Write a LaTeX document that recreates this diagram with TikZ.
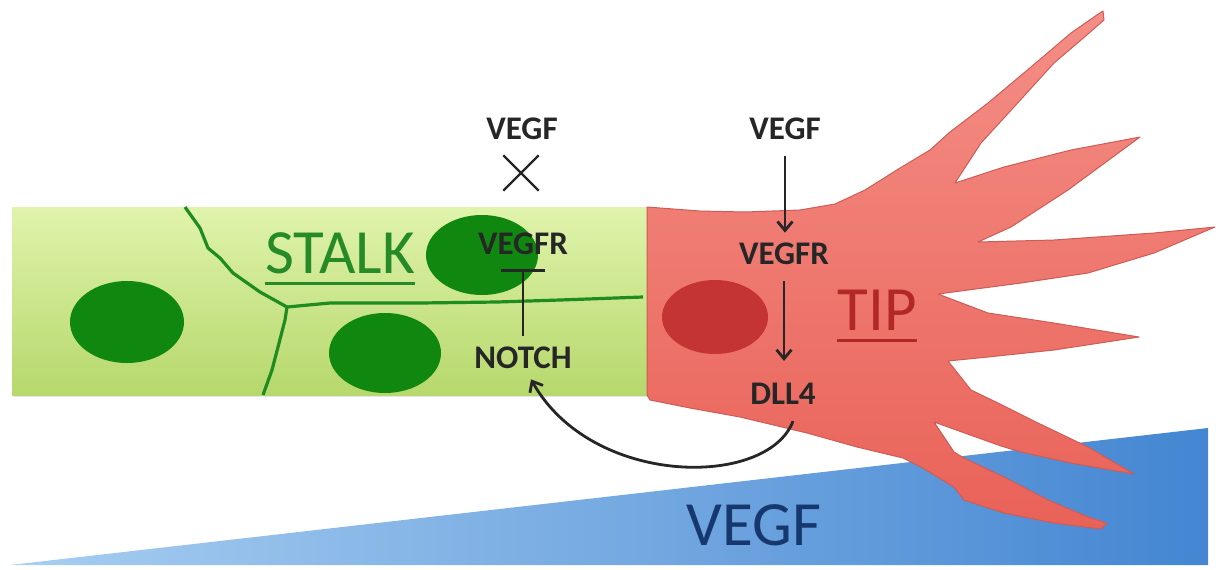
\documentclass[tikz,border=0pt]{standalone}
\usepackage{fontspec}
\setmainfont{Carlito}
\usetikzlibrary{arrows.meta,shapes.misc,shadows}

\definecolor{stalkTop}{RGB}{224,243,172}
\definecolor{stalkBot}{RGB}{182,216,108}
\definecolor{nucGreen}{RGB}{16,136,16}
\definecolor{lineGreen}{RGB}{30,140,30}
\definecolor{stalkText}{RGB}{38,138,38}
\definecolor{tipTop}{RGB}{244,142,134}
\definecolor{tipBot}{RGB}{233,98,88}
\definecolor{tipEdge}{RGB}{205,92,86}
\definecolor{nucRed}{RGB}{196,52,52}
\definecolor{tipText}{RGB}{178,40,40}
\definecolor{gradLeft}{RGB}{168,206,241}
\definecolor{gradRight}{RGB}{68,134,210}
\definecolor{gradText}{RGB}{22,56,110}
\definecolor{ink}{RGB}{38,38,38}

\tikzset{
  lbl/.style={inner sep=0pt, text=ink, font=\bfseries\fontsize{16.5}{19}\selectfont},
  bigword/.style={inner sep=0pt, anchor=base, font=\fontsize{31.5}{36}\selectfont},
  wire/.style={draw=ink, line width=1.4pt},
  act/.style={wire, -{Straight Barb[length=4.5pt,width=7.5pt,line width=1.4pt]}},
  inhib/.style={wire, -{Bar[width=22pt,line width=1.5pt]}},
  membrane/.style={draw=lineGreen, line width=1.6pt, line join=round},
  nucleus/.style={fill=nucGreen},
}

\begin{document}
\begin{tikzpicture}[x=0.5pt,y=-0.5pt]
\useasboundingbox (0,0) rectangle (1221,569);

% VEGF gradient wedge
\shade[left color=gradLeft, right color=gradRight]
  (10,565) -- (1208,428) -- (1208,565) -- cycle;

% stalk cells
\shade[top color=stalkTop, bottom color=stalkBot,
  drop shadow={shadow xshift=1.2pt, shadow yshift=-1.2pt, opacity=0.2}]
  (12,207) rectangle (648,395);
\draw[membrane] (185,207) -- (200,228) -- (208,248) -- (220,258) -- (233,273)
  -- (260,292) -- (287,307);
\draw[membrane] (287,307) -- (285,320) -- (278,347) -- (272,370) -- (263,395);
\draw[membrane] (287,307) -- (330,303) -- (420,303) -- (497,302) -- (560,300)
  -- (643,297);
\fill[nucleus] (127,322) ellipse [x radius=28.5pt, y radius=20.5pt];
\fill[nucleus] (385,353) ellipse [x radius=28pt, y radius=20pt];
\fill[nucleus] (482,255) ellipse [x radius=28pt, y radius=20pt];

% tip cell with filopodia
\shade[top color=tipTop, bottom color=tipBot, draw=tipEdge, line width=0.5pt,
  line join=round]
  (647,207) -- (700,211) -- (745,212) -- (800,210) -- (835,204) -- (865,190)
  -- (900,168) -- (930,150) -- (950,132) -- (988,103) -- (1031,67)
  -- (1071,33) -- (1094,17) -- (1103,11) -- (1104,20) -- (1081,40)
  -- (1054,63) -- (1014,107) -- (981,143) -- (955,183) -- (1004,167)
  -- (1071,150) -- (1140,137) -- (1068,190) -- (1011,227) -- (978,242)
  -- (1054,240) -- (1154,233) -- (1215,227) -- (1154,253) -- (1088,273)
  -- (1021,283) -- (938,294) -- (988,313) -- (1054,323) -- (1139,337)
  -- (1054,350) -- (988,357) -- (948,361) -- (971,390) -- (998,403)
  -- (1038,423) -- (1088,447) -- (1134,474) -- (1071,463) -- (1021,452)
  -- (1001,446) -- (934,422) -- (954,452) -- (964,458) -- (1004,477)
  -- (1048,500) -- (1088,517) -- (1107,523) -- (1101,529) -- (1054,523)
  -- (1004,513) -- (964,500) -- (954,487) -- (921,467) -- (903,458)
  -- (857,447) -- (807,433) -- (740,417) -- (690,408) -- (650,400)
  -- (647,395) -- cycle;
\fill[nucRed] (715,317) ellipse [x radius=26.5pt, y radius=18.5pt];

% cell names
\node[bigword, text=stalkText] (stalk) at (340,273) {STALK};
\draw[stalkText, line width=1.5pt]
  ([yshift=-5pt]stalk.base west) -- ([yshift=-5pt]stalk.base east);
\node[bigword, text=tipText] (tip) at (877,330) {TIP};
\draw[tipText, line width=1.5pt]
  ([yshift=-5pt]tip.base west) -- ([yshift=-5pt]tip.base east);
\node[bigword, text=gradText] (gradient) at (754,545) {VEGF};

% stalk-cell signalling
\node[lbl] (vegfA) at (522,129) {VEGF};
\node[draw=ink, line width=1.2pt, cross out, minimum size=16.5pt, inner sep=0pt]
  (blocked) at (521,173) {};
\node[lbl] (vegfrS) at (523,244) {VEGFR};
\node[lbl] (notchS) at (523,358) {NOTCH};
\draw[inhib, shorten <=5.5pt, shorten >=7pt] (notchS.north) -- (vegfrS.south);

% tip-cell signalling
\node[lbl] (vegfB) at (785,129) {VEGF};
\node[lbl] (vegfrT) at (784,254) {VEGFR};
\node[lbl] (dll4) at (783,394) {DLL4};
\draw[act, shorten <=8pt, shorten >=5pt] (vegfB.south) -- (vegfB.south |- vegfrT.north);
\draw[act, shorten <=8pt, shorten >=11pt] (vegfrT.south) -- (vegfrT.south |- dll4.north);

% DLL4 to NOTCH between the cells
\draw[act] ([xshift=5pt,yshift=-8pt]dll4.south) .. controls (768,488) and (592,488)
  .. ([xshift=4pt,yshift=-5pt]notchS.south);
\end{tikzpicture}
\end{document}
